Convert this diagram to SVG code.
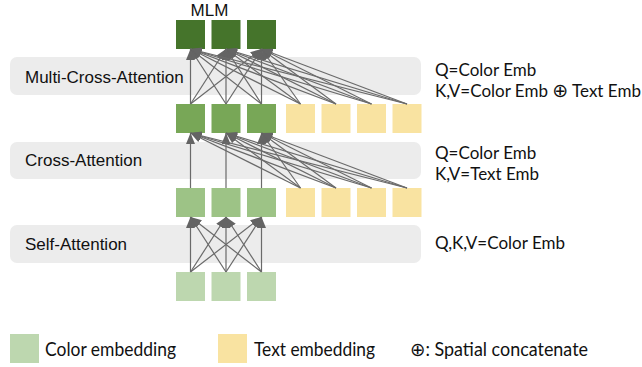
<svg xmlns="http://www.w3.org/2000/svg" width="642" height="367" viewBox="0 0 642 367">
<defs>
<marker id="ah" viewBox="0 0 11 9" markerWidth="11" markerHeight="9" refX="11" refY="4.5" orient="auto" markerUnits="userSpaceOnUse">
<path d="M0,0 L11,4.5 L0,9 z" fill="#646464"/>
</marker>
</defs>
<style>
.band{fill:#ececec}
.lbl{font-family:"Liberation Sans",Arial,sans-serif;font-size:17px;fill:#111}
.rt{font-family:Lato,"DejaVu Sans",sans-serif;font-size:17px;fill:#111}
.lg{font-family:Lato,"DejaVu Sans",sans-serif;font-size:18.5px;fill:#111}
.op{font-family:"DejaVu Sans",sans-serif;font-size:19px}
.c1{fill:#45742b}
.c2{fill:#78a757}
.c3{fill:#9dc386}
.c4{fill:#bdd7af}
.y{fill:#f9e3a1}
#connectors line{stroke:#6a6a6a;stroke-width:1.2;marker-end:url(#ah)}
</style>
<rect width="642" height="367" fill="#fff"/>
<g id="band-multi"><rect class="band" x="10" y="57" width="411" height="38" rx="7"/><text class="lbl" x="25" y="83">Multi-Cross-Attention</text></g>
<g id="band-cross"><rect class="band" x="10" y="142" width="411" height="37" rx="7"/><text class="lbl" x="25" y="166">Cross-Attention</text></g>
<g id="band-self"><rect class="band" x="10" y="225" width="411" height="38" rx="7"/><text class="lbl" x="25" y="250">Self-Attention</text></g>

<g id="mlm-row">
<text class="lbl" x="209.5" y="16" text-anchor="middle">MLM</text>
<rect class="c1" x="176" y="20" width="29" height="29"/>
<rect class="c1" x="211.5" y="20" width="29" height="29"/>
<rect class="c1" x="247" y="20" width="29" height="29"/>
</g>
<g id="row2">
<rect class="c2" x="176" y="104" width="29" height="29"/>
<rect class="c2" x="211.5" y="104" width="29" height="29"/>
<rect class="c2" x="247" y="104" width="29" height="29"/>
<rect class="y" x="286" y="104" width="29" height="29"/>
<rect class="y" x="321.5" y="104" width="29" height="29"/>
<rect class="y" x="357" y="104" width="29" height="29"/>
<rect class="y" x="392.5" y="104" width="29" height="29"/>
</g>
<g id="row3">
<rect class="c3" x="176" y="188" width="29" height="29"/>
<rect class="c3" x="211.5" y="188" width="29" height="29"/>
<rect class="c3" x="247" y="188" width="29" height="29"/>
<rect class="y" x="286" y="188" width="29" height="29"/>
<rect class="y" x="321.5" y="188" width="29" height="29"/>
<rect class="y" x="357" y="188" width="29" height="29"/>
<rect class="y" x="392.5" y="188" width="29" height="29"/>
</g>
<g id="row4">
<rect class="c4" x="176" y="272" width="29" height="29"/>
<rect class="c4" x="211.5" y="272" width="29" height="29"/>
<rect class="c4" x="247" y="272" width="29" height="29"/>
</g>

<g id="connectors">
<line x1="190.5" y1="104" x2="190.5" y2="49"/><line x1="190.5" y1="104" x2="226" y2="49"/><line x1="190.5" y1="104" x2="261.5" y2="49"/>
<line x1="226" y1="104" x2="190.5" y2="49"/><line x1="226" y1="104" x2="226" y2="49"/><line x1="226" y1="104" x2="261.5" y2="49"/>
<line x1="261.5" y1="104" x2="190.5" y2="49"/><line x1="261.5" y1="104" x2="226" y2="49"/><line x1="261.5" y1="104" x2="261.5" y2="49"/>
<line x1="300.5" y1="104" x2="190.5" y2="49"/><line x1="300.5" y1="104" x2="226" y2="49"/><line x1="300.5" y1="104" x2="261.5" y2="49"/>
<line x1="336" y1="104" x2="190.5" y2="49"/><line x1="336" y1="104" x2="226" y2="49"/><line x1="336" y1="104" x2="261.5" y2="49"/>
<line x1="371.5" y1="104" x2="190.5" y2="49"/><line x1="371.5" y1="104" x2="226" y2="49"/><line x1="371.5" y1="104" x2="261.5" y2="49"/>
<line x1="407" y1="104" x2="190.5" y2="49"/><line x1="407" y1="104" x2="226" y2="49"/><line x1="407" y1="104" x2="261.5" y2="49"/>

<line x1="190.5" y1="188" x2="190.5" y2="133"/><line x1="226" y1="188" x2="226" y2="133"/><line x1="261.5" y1="188" x2="261.5" y2="133"/>
<line x1="300.5" y1="188" x2="190.5" y2="133"/><line x1="300.5" y1="188" x2="226" y2="133"/><line x1="300.5" y1="188" x2="261.5" y2="133"/>
<line x1="336" y1="188" x2="190.5" y2="133"/><line x1="336" y1="188" x2="226" y2="133"/><line x1="336" y1="188" x2="261.5" y2="133"/>
<line x1="371.5" y1="188" x2="190.5" y2="133"/><line x1="371.5" y1="188" x2="226" y2="133"/><line x1="371.5" y1="188" x2="261.5" y2="133"/>
<line x1="407" y1="188" x2="190.5" y2="133"/><line x1="407" y1="188" x2="226" y2="133"/><line x1="407" y1="188" x2="261.5" y2="133"/>

<line x1="190.5" y1="272" x2="190.5" y2="217"/><line x1="190.5" y1="272" x2="226" y2="217"/><line x1="190.5" y1="272" x2="261.5" y2="217"/>
<line x1="226" y1="272" x2="190.5" y2="217"/><line x1="226" y1="272" x2="226" y2="217"/><line x1="226" y1="272" x2="261.5" y2="217"/>
<line x1="261.5" y1="272" x2="190.5" y2="217"/><line x1="261.5" y1="272" x2="226" y2="217"/><line x1="261.5" y1="272" x2="261.5" y2="217"/>
</g>

<g id="notes">
<text class="rt" x="435" y="76">Q=Color Emb</text>
<text class="rt" x="435" y="97">K,V=Color Emb <tspan class="op">⊕</tspan> Text Emb</text>
<text class="rt" x="435" y="159">Q=Color Emb</text>
<text class="rt" x="435" y="180">K,V=Text Emb</text>
<text class="rt" x="435" y="249">Q,K,V=Color Emb</text>
</g>

<g id="legend">
<rect class="c4" x="10" y="334" width="29" height="29"/>
<text class="lg" x="45" y="356" textLength="131" lengthAdjust="spacingAndGlyphs">Color embedding</text>
<rect class="y" x="218" y="334" width="29" height="29"/>
<text class="lg" x="254" y="356" textLength="121" lengthAdjust="spacingAndGlyphs">Text embedding</text>
<text class="lg" x="410" y="356" textLength="178" lengthAdjust="spacingAndGlyphs"><tspan class="op" font-size="21px">⊕</tspan>: Spatial concatenate</text>
</g>
</svg>
